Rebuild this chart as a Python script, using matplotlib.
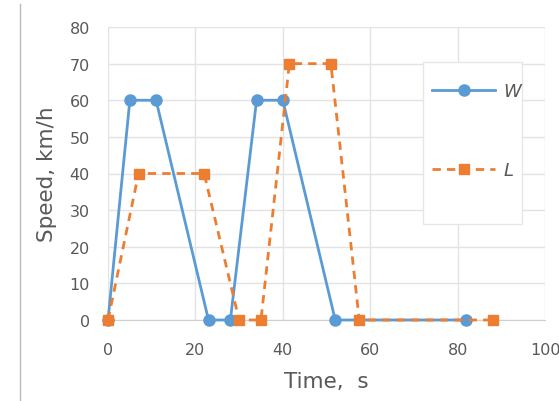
import matplotlib
matplotlib.use("Agg")
import matplotlib.pyplot as plt
from matplotlib.lines import Line2D
from matplotlib.patches import Rectangle

w_time = [0, 5, 11, 23, 28, 34, 40, 52, 82]
w_speed = [0, 60, 60, 0, 0, 60, 60, 0, 0]
l_time = [0, 7, 22, 30, 35, 41.5, 51, 57.5, 88]
l_speed = [0, 40, 40, 0, 0, 70, 70, 0, 0]
x_ticks = [0, 20, 40, 60, 80, 100]
y_ticks = [0, 10, 20, 30, 40, 50, 60, 70, 80]

blue = "#5B9BD5"
orange = "#ED7D31"
W, H = 559, 402
L0, R0, T0, B0 = 108, 545, 28, 321


def ax_x(px):
    return (px - L0) / (R0 - L0)


def ax_y(py):
    return (B0 - py) / (B0 - T0)


fig = plt.figure(figsize=(W / 100, H / 100), dpi=100)
ax = fig.add_axes([L0 / W, 1 - B0 / H, (R0 - L0) / W, (B0 - T0) / H])

ax.plot(w_time, w_speed, color=blue, lw=2, marker="o", ms=8, label="W", zorder=3,
        clip_on=False)
ax.plot(l_time, l_speed, color=orange, lw=2, ls=(0, (3, 2.2)), marker="s", ms=7.5,
        label="L", zorder=4, clip_on=False)

ax.set_xlim(0, 100)
ax.set_ylim(0, 80)
ax.set_xticks(x_ticks)
ax.set_yticks(y_ticks)
ax.grid(True, color="#E3E3E3", lw=1)
ax.set_axisbelow(True)
for s in ["top", "right", "left"]:
    ax.spines[s].set_visible(False)
ax.spines["bottom"].set_color("#D0D0D0")
ax.tick_params(axis="both", length=0, labelsize=11.5, colors="#595959")
ax.tick_params(axis="y", pad=13)
ax.tick_params(axis="x", pad=15.5)
ax.set_xlabel("Time,  s", fontsize=15.5, color="#595959")
ax.set_ylabel("Speed, km/h", fontsize=15.5, color="#595959")
ax.yaxis.set_label_coords(ax_x(57), 0.5)
ax.xaxis.set_label_coords(0.5, ax_y(372))

# legend box
ax.add_patch(Rectangle((ax_x(423), ax_y(225)), ax_x(522) - ax_x(423),
                       ax_y(63) - ax_y(225), transform=ax.transAxes,
                       facecolor="white", edgecolor="#E6E6E6", lw=1, zorder=5))
leg = ax.legend(loc="upper left", bbox_to_anchor=(ax_x(432), ax_y(83)),
                frameon=False, fontsize=13, handlelength=3.5, handletextpad=0.45,
                labelspacing=3.4, borderpad=0, borderaxespad=0)
leg.set_zorder(6)
for t in leg.get_texts():
    t.set_style("italic")
    t.set_color("#595959")

fig.add_artist(Line2D([20 / W, 20 / W], [0, 1 - 5 / H], color="#BBBBBB", lw=1))

fig.savefig("out.png", dpi=100)
